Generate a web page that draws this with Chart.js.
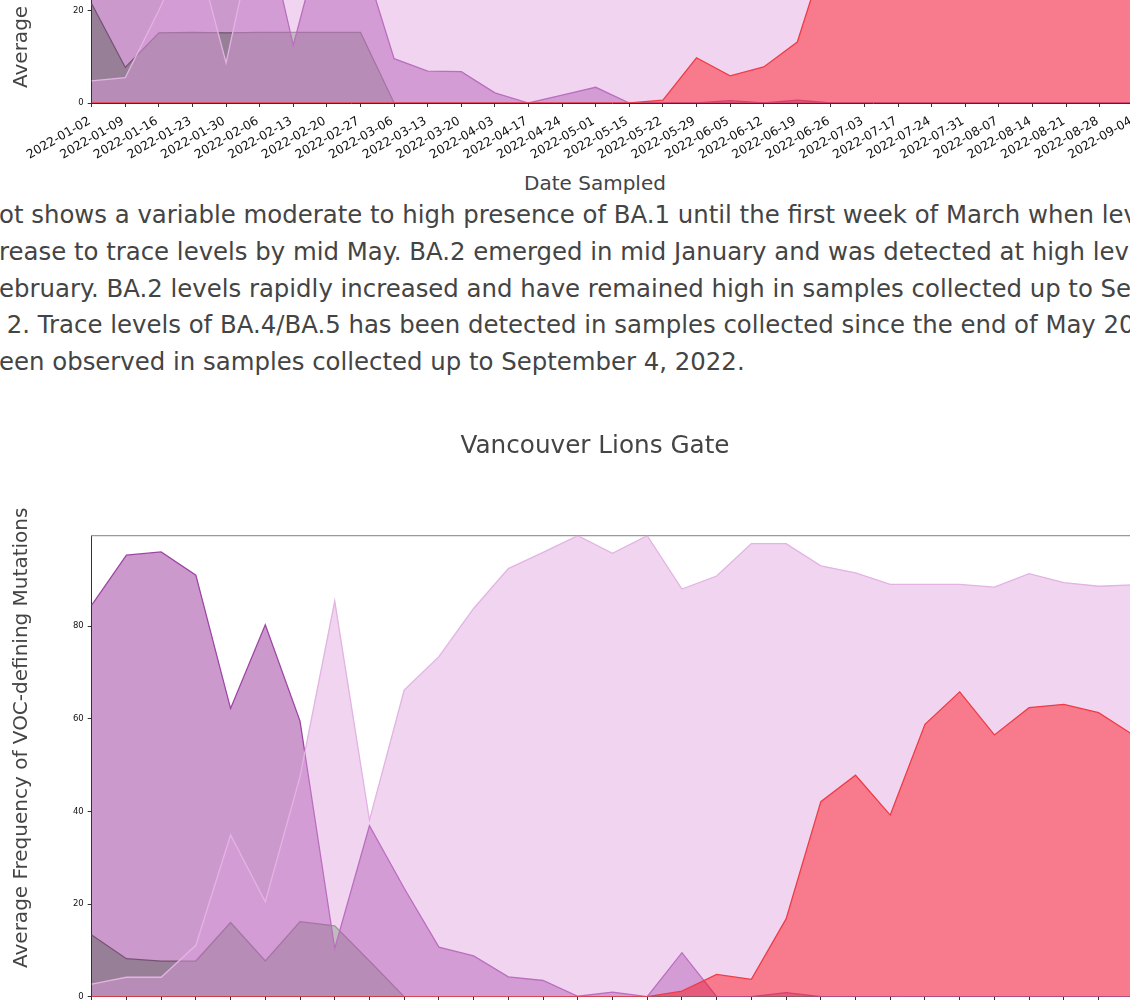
<!DOCTYPE html>
<html>
<head>
<meta charset="utf-8">
<title>VOC frequency</title>
<script src="https://cdn.jsdelivr.net/npm/chart.js@4.4.0/dist/chart.umd.min.js"></script>
<style>
  body { margin: 0; width: 1130px; height: 1000px; overflow: hidden; background: #fff; position: relative;
         font-family: "DejaVu Sans", sans-serif; color: #444; }
  canvas { position: absolute; left: 0; }
  #upperChart { top: -380.3px; }
  #lionsGateChart { top: 421px; }
  .axis-title { position: absolute; font-size: 20px; line-height: 24px; white-space: nowrap; }
  .y-title { left: 8px; transform-origin: 0 0; transform: rotate(-90deg); }
  #summary { position: absolute; left: -1px; top: 197px; font-size: 24.4px; line-height: 36.8px; white-space: nowrap; }
</style>
</head>
<body>
<canvas id="upperChart" width="1190" height="543"></canvas>
<div class="axis-title y-title" style="top:88px">Average Frequency of VOC-defining Mutations</div>
<div class="axis-title" style="left:595px; top:171px; transform:translateX(-50%)">Date Sampled</div>

<div id="summary">
  <div>ot shows a variable moderate to high presence of BA.1 until the first week of March when levels</div>
  <div>rease to trace levels by mid May. BA.2 emerged in mid January and was detected at high levels</div>
  <div>ebruary. BA.2 levels rapidly increased and have remained high in samples collected up to September</div>
  <div>&nbsp;2. Trace levels of BA.4/BA.5 has been detected in samples collected since the end of May 2022</div>
  <div>een observed in samples collected up to September 4, 2022.</div>
</div>

<canvas id="lionsGateChart" width="1200" height="636"></canvas>
<div class="axis-title y-title" style="top:968px">Average Frequency of VOC-defining Mutations</div>

<script>
const dates = [
  "2022-01-02", "2022-01-09", "2022-01-16", "2022-01-23", "2022-01-30", "2022-02-06",
  "2022-02-13", "2022-02-20", "2022-02-27", "2022-03-06", "2022-03-13", "2022-03-20",
  "2022-04-03", "2022-04-17", "2022-04-24", "2022-05-01", "2022-05-15", "2022-05-22",
  "2022-05-29", "2022-06-05", "2022-06-12", "2022-06-19", "2022-06-26", "2022-07-03",
  "2022-07-17", "2022-07-24", "2022-07-31", "2022-08-07", "2022-08-14", "2022-08-21",
  "2022-08-28", "2022-09-04",
];

// upper site (only the bottom of its plot is in view)
const upperDelta = [21.5, 7.7, 15.2, 15.3, 15.2, 15.3, 15.3, 15.3, 15.3, 0, 0, 0, 0, 0, 0, 0,
  0, 0, 0, 0, 0, 0, 0, 0, 0, 0, 0, 0, 0, 0, 0, 0];
const upperBA1 = [58, 46, 64, 52, 60, 44, 12.5, 40, 33, 9.6, 6.9, 6.8, 2.2, 0, 1.7, 3.4,
  0, 0, 0, 0.5, 0, 0.6, 0, 0, 0, 0, 0, 0, 0, 0, 0, 0];
const upperBA2 = [4.8, 5.5, 20.1, 36, 8.7, 42, 58, 66, 72, 80, 86, 88, 92, 95, 96, 95,
  97, 96, 94, 93, 92, 90, 91, 90, 89, 90, 91, 90, 92, 91, 90, 90];
const upperBA45 = [0, 0, 0, 0, 0, 0, 0, 0, 0, 0, 0, 0, 0, 0, 0, 0,
  0, 0.6, 9.8, 5.9, 7.8, 13.2, 36, 47, 55, 61, 66, 64, 69, 71, 68, 66];

// Vancouver Lions Gate
const lgDelta = [13.3, 8.2, 7.7, 7.7, 16.0, 7.7, 16.2, 15.3, 7.7, 0, 0, 0, 0, 0, 0, 0,
  0, 0, 0, 0, 0, 0, 0, 0, 0, 0, 0, 0, 0, 0, 0, 0];
const lgBA1 = [84.5, 95.3, 96.0, 91.0, 62.2, 80.3, 59.5, 10.4, 36.9, 23.4, 10.7, 8.8, 4.3, 3.5, 0.1, 1.0,
  0, 9.5, 0, 0, 0.9, 0, 0, 0, 0, 0, 0, 0, 0, 0, 0, 0];
const lgBA2 = [2.7, 4.2, 4.2, 11.1, 34.9, 20.5, 47.5, 85.4, 38.1, 66.2, 73.4, 83.8, 92.4, 95.9, 99.5, 95.7,
  99.5, 88.0, 90.8, 97.8, 97.8, 93.0, 91.5, 89.0, 89.0, 89.0, 88.4, 91.3, 89.4, 88.6, 88.9, 89.2];
const lgBA45 = [0, 0, 0, 0, 0, 0, 0, 0, 0, 0, 0, 0, 0, 0, 0, 0,
  0, 1.2, 4.8, 3.75, 16.8, 42.1, 47.8, 39.2, 58.8, 65.8, 56.5, 62.4, 63.1, 61.3, 56.5, 54.0];

const yMax = 99.5;

Chart.defaults.font.family = '"DejaVu Sans", sans-serif';
Chart.defaults.color = "#111";

// lower order = drawn on top
function makeDatasets(delta, ba1, ba2, ba45) {
  return [
    { label: "BA.4/BA.5", data: ba45, borderColor: "#f03c46", backgroundColor: "rgba(255,0,0,0.42)", order: 1 },
    { label: "BA.2", data: ba2, borderColor: "#e3b3e3", backgroundColor: "rgba(221,160,221,0.45)", order: 2 },
    { label: "BA.1", data: ba1, borderColor: "#9e45a6", backgroundColor: "rgba(128,0,128,0.4)", order: 3 },
    { label: "Delta", data: delta, borderColor: "#6f8b6f", backgroundColor: "rgba(0,128,0,0.35)", order: 4 },
  ].map((ds) => ({ ...ds, fill: "origin", borderWidth: 1.3, pointRadius: 0, tension: 0 }));
}

function drawSiteChart(id, datasets, layout) {
  const scales = {
    x: {
      ticks: { autoSkip: false, minRotation: 30, maxRotation: 30, font: { size: 12.3 }, padding: 7, labelOffset: -2 },
      grid: { drawOnChartArea: false, tickLength: 4, tickColor: "#333" },
      border: { color: "#333", width: 1 },
      afterFit: (s) => { s.height = 60; },
    },
    y: {
      min: 0,
      max: yMax,
      ticks: { stepSize: 20, includeBounds: false, font: { size: 8.5 }, padding: 4 },
      grid: { drawOnChartArea: false, tickLength: 4, tickColor: "#333" },
      border: { color: "#333", width: 1 },
      afterFit: (s) => { s.width = layout.yWidth; },
    },
  };
  if (layout.topSpine) {
    scales.xTop = {
      type: "category",
      position: "top",
      ticks: { display: false },
      grid: { display: false, drawTicks: false },
      border: { display: true, color: "#999", width: 1.3 },
      afterFit: (s) => { s.height = 0; },
    };
  }

  return new Chart(document.getElementById(id), {
    type: "line",
    data: { labels: dates, datasets },
    options: {
      responsive: false,
      animation: false,
      devicePixelRatio: 1,
      layout: { padding: layout.padding },
      plugins: {
        legend: { display: false },
        tooltip: { enabled: false },
        title: layout.title || { display: false },
      },
      scales,
    },
  });
}

drawSiteChart("upperChart", makeDatasets(upperDelta, upperBA1, upperBA2, upperBA45), {
  yWidth: 91.7,
  padding: { left: 0, right: 56.7, top: 23.6, bottom: 0 },
});

drawSiteChart("lionsGateChart", makeDatasets(lgDelta, lgBA1, lgBA2, lgBA45), {
  yWidth: 69.7,
  topSpine: true,
  padding: { left: 22, right: 32, top: 0, bottom: 0.3 },
  title: {
    display: true,
    text: "Vancouver Lions Gate",
    color: "#444",
    font: { size: 24.7, weight: "normal" },
    padding: { top: 11.2, bottom: 73.9 },
  },
});
</script>
</body>
</html>
